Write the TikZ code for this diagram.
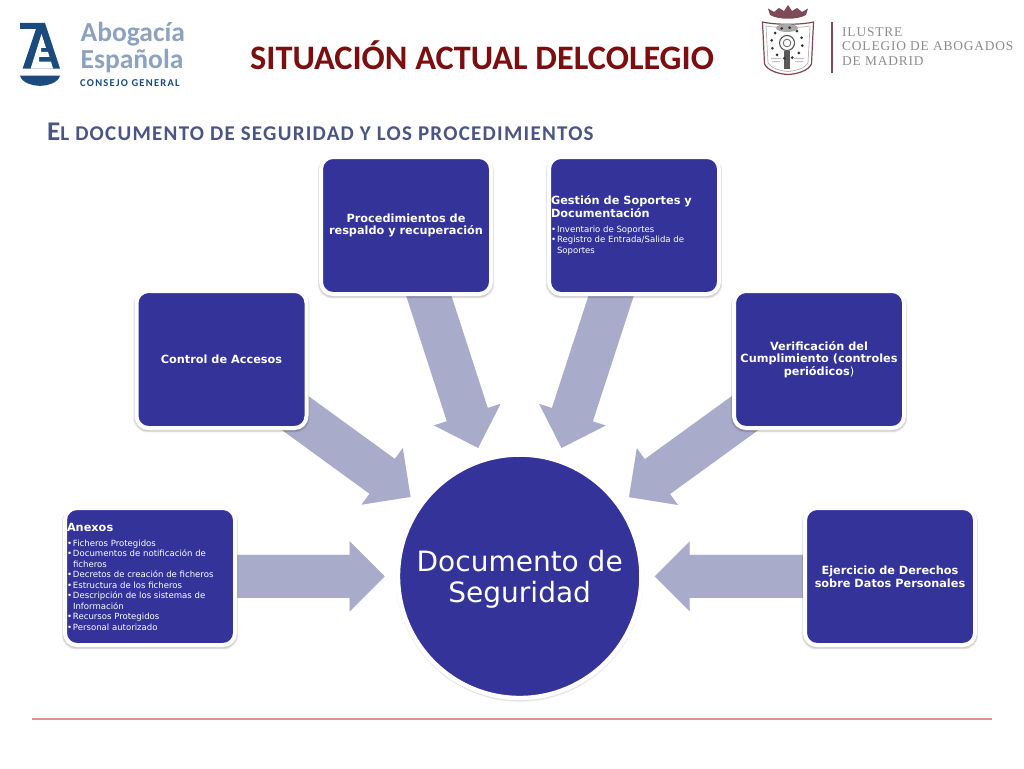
\documentclass[tikz,border=0pt]{standalone}
\usepackage{fontspec}
\setmainfont{DejaVu Sans}
\newfontfamily\carl{Carlito}
\newfontfamily\subfont[LetterSpace=6]{Carlito}
\newfontfamily\crestfont[LetterSpace=6.2]{Liberation Serif}
\newfontfamily\consejofont[LetterSpace=12]{Carlito}
\usetikzlibrary{calc}
\pgfdeclarelayer{bg}
\pgfdeclarelayer{shade}
\pgfsetlayers{bg,shade,main}
\definecolor{docblue}{HTML}{333399}
\definecolor{flowblue}{HTML}{A9ABCA}
\definecolor{flowedge}{HTML}{E6E6EC}
\definecolor{titlered}{HTML}{7B0F10}
\definecolor{subblue}{HTML}{4A5583}
\definecolor{footline}{HTML}{DE9585}
\definecolor{logonavy}{HTML}{1B4B7C}
\definecolor{logolight}{HTML}{8DA2BF}
\definecolor{crestmaroon}{HTML}{7D4A55}
\definecolor{crestgrey}{HTML}{8C8C8C}
\newcommand{\bul}{\makebox[6pt][l]{•}}
\newcommand{\cont}{\hspace*{6pt}}
\newcommand{\headfont}{\fontsize{11.3}{12.6}\bfseries}
\newcommand{\itemfont}{\fontsize{8.55}{10.5}\selectfont}
% block arrow from the centre of node #1 towards the centre of node #2
\newcommand{\blockflow}[3]{%
  \coordinate (tip) at ($(#2.center)!135pt!(#1.center)$);
  \coordinate (nk) at ($(#2.center)!170pt!(#1.center)$);
  \fill[#3] ($(#1.center)!21.5pt!-90:(tip)$) -- ($(nk)!21.5pt!-90:(tip)$) -- ($(nk)!35pt!-90:(tip)$)
    -- (tip) -- ($(nk)!35pt!90:(tip)$) -- ($(nk)!21.5pt!90:(tip)$) -- ($(#1.center)!21.5pt!90:(tip)$) -- cycle;
}
\tikzset{
  x=1pt,y=-1pt,
  infobox/.style={rectangle,rounded corners=12pt,draw=white,fill=docblue,line width=4pt,
    minimum width=170pt,minimum height=137pt,inner xsep=2pt,inner ysep=0pt,text=white},
  headtext/.style={align=center,font=\headfont\selectfont},
  flow/.style={fill=flowblue},
  flowshadow/.style={fill=flowedge,yshift=-1pt},
  logotext/.style={anchor=base west,inner sep=0pt,text=logolight},
  cresttext/.style={anchor=base west,inner sep=0pt,text=crestgrey,font=\crestfont\fontsize{13.4}{14}\selectfont},
}
\begin{document}
\begin{tikzpicture}
\useasboundingbox (0,0) rectangle (1024,768);

% titles
\node[anchor=base west,inner sep=0pt,text=titlered,font=\carl\bfseries\fontsize{34.3}{36}\selectfont] (title) at (250,69) {SITUACIÓN ACTUAL DELCOLEGIO};
\node[anchor=base west,inner sep=0pt,text=subblue,font=\subfont\bfseries] (subtitle) at (47,140)
  {{\fontsize{27}{30}\selectfont E}{\fontsize{21}{30}\selectfont L DOCUMENTO DE SEGURIDAD Y LOS PROCEDIMIENTOS}};

% left logo
\fill[logonavy] (20,23) -- (45,23) -- (60,68.5) -- (22.7,68.5) -- (36,29) -- (20,29) -- cycle;
\fill[white] (30.7,68.5) -- (41.5,34) -- (46,48) -- (41,48) -- (41,52) -- (48,52) -- (49.5,57) -- (39,57) -- (39,61.5) -- (51,61.5) -- (53,68.5) -- cycle;
\fill[logonavy] (20,75.7) -- (60,75.7) .. controls (58,83) and (47,85.8) .. (40,85.8) .. controls (33,85.8) and (22,83) .. (20,75.7) -- cycle;
\node[logotext,font=\carl\bfseries\fontsize{27.5}{30}\selectfont] (abogacia) at (80.5,41.5) {Abogacía};
\node[logotext,font=\carl\bfseries\fontsize{27.5}{30}\selectfont] (espanola) at (80.5,68) {Española};
\node[anchor=base west,inner sep=0pt,text=logonavy,font=\consejofont\bfseries\fontsize{10.5}{11}\selectfont] (consejo) at (80,86) {CONSEJO GENERAL};

% crest
\fill[crestmaroon] (770,15) -- (768,8.5) -- (774,12) -- (779,8) -- (784,11) -- (788,5) -- (792,11) -- (797,8) -- (802,12) -- (808,8.5) -- (806,15) .. controls (797,20) and (779,20) .. (770,15) -- cycle;
\draw[crestmaroon,line width=1.2pt,fill=white] (762.5,22) .. controls (775,25) and (801,25) .. (813.5,22) -- (811.5,64) .. controls (808,71) and (797,74) .. (788,74.5) .. controls (779,74) and (768,71) .. (764.5,64) -- cycle;
\draw[crestgrey!60,line width=.8pt] (766,26) .. controls (777,28) and (799,28) .. (810,26) -- (808,63) .. controls (805,68) and (796,71) .. (788,71.5) .. controls (780,71) and (771,68) .. (768,63) -- cycle;
\fill[crestgrey!75] (787,28) ellipse (11pt and 4pt);
\draw[black!65,line width=1.1pt] (787,43) circle (7.5pt);
\draw[black!55,line width=.9pt] (787,43) circle (3.8pt);
\fill[black!65] (784,51) rectangle (790,69);
\foreach \a in {20,50,...,350}{\fill[black!80] (787,43) ++(\a:15.5pt) circle (1.5pt);}
\fill[crestgrey!55] (771,58) rectangle (781,59) (772,61) rectangle (780,62) (794,58) rectangle (804,59) (795,61) rectangle (803,62);
\draw[crestmaroon,line width=1.4pt] (832,22) -- (832,73);
\node[cresttext] (ilustre) at (842,37) {ILUSTRE};
\node[cresttext] (colegio) at (842,51) {COLEGIO DE ABOGADOS};
\node[cresttext] (madrid) at (842,66) {DE MADRID};

% center
\node[circle,draw=white,fill=docblue,line width=4.5pt,minimum size=243.5pt,inner sep=0pt,text=white,
  font=\fontsize{28}{31}\selectfont] (doc) at (519.7,576.3)
  {\raisebox{-2.5pt}[\height][\depth]{\parbox{236pt}{\centering Documento de\\Seguridad}}};

% boxes
\node[infobox] (anexos) at (150,576.5) {\begin{minipage}{166pt}\raggedright\itemfont
  {\headfont\selectfont Anexos}\\[4.5pt]
  \bul Ficheros Protegidos\\
  \bul Documentos de notificación de\\
  \cont ficheros\\
  \bul Decretos de creación de ficheros\\
  \bul Estructura de los ficheros\\
  \bul Descripción de los sistemas de\\
  \cont Información\\
  \bul Recursos Protegidos\\
  \bul Personal autorizado
  \end{minipage}};
\node[infobox,headtext] (control) at (221.5,359.5) {Control de Accesos};
\node[infobox,headtext] (proced) at (406,225.5) {Procedimientos de\\respaldo y recuperación};
\node[infobox] (gestion) at (634,225.5) {\begin{minipage}{166pt}\raggedright\itemfont
  {\headfont\selectfont Gestión de Soportes y\\Documentación}\\[4.5pt]
  \bul Inventario de Soportes\\
  \bul Registro de Entrada/Salida de\\
  \cont Soportes
  \end{minipage}};
\node[infobox,headtext] (verif) at (819,359.5) {Verificación del\\Cumplimiento (controles\\periódicos{\mdseries )}};
\node[infobox,headtext] (ejerc) at (890,576.5) {Ejercicio de Derechos\\sobre Datos Personales};

% flows, drawn under the nodes
\begin{pgfonlayer}{bg}
\fill[white] (0,0) rectangle (1024,768);
\foreach \b in {anexos,control,proced,gestion,verif,ejerc}{
  \blockflow{\b}{doc}{flowshadow}
}
\foreach \b in {anexos,control,proced,gestion,verif,ejerc}{
  \blockflow{\b}{doc}{flow}
}
\end{pgfonlayer}

% soft shadows of the white borders
\begin{pgfonlayer}{shade}
\foreach \b in {anexos,control,proced,gestion,verif,ejerc}{
  \foreach \g in {0,.6,1.2}{
    \fill[black,opacity=.065,rounded corners=14pt]
      ([xshift=-\g pt,yshift=-2pt]\b.north west) rectangle ([xshift=\g pt,yshift=-\g pt-1.2pt]\b.south east);
  }
}
\foreach \g in {0,.7,1.4}{
  \fill[black,opacity=.06] ([yshift=-1.5pt]doc.center) circle (124pt+\g pt-1.4pt);
}
\end{pgfonlayer}

% footer
\coordinate (footl) at (32,719);
\coordinate (footr) at (992,719);
\draw[footline,line width=1.6pt] (footl) -- (footr);
\end{tikzpicture}
\end{document}
